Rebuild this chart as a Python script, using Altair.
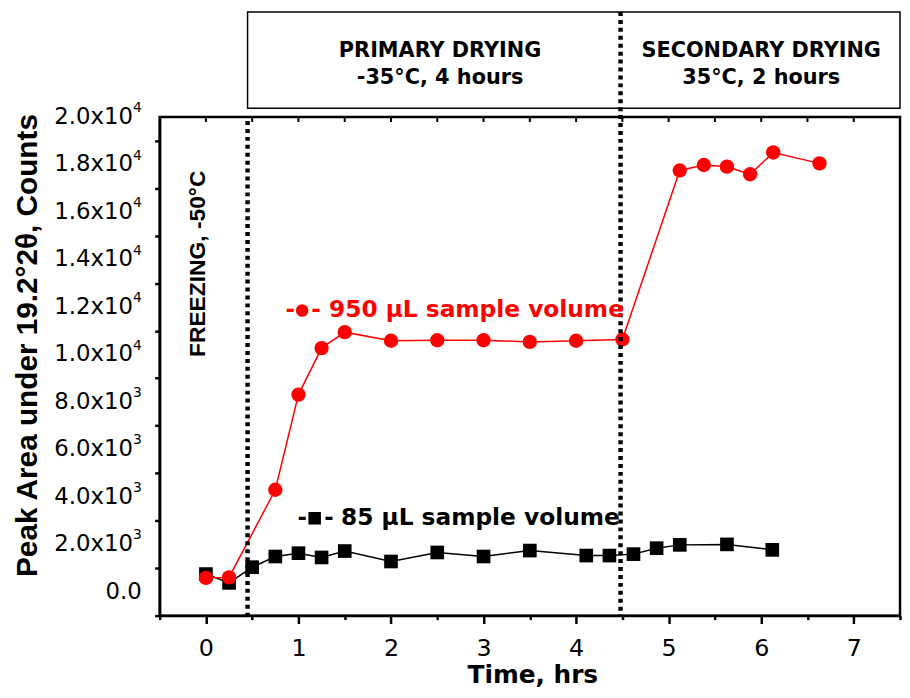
import altair as alt
import pandas as pd

# ---- data ----
red_t = [0, 0.25, 0.75, 1.0, 1.25, 1.5, 2.0, 2.5, 3.0, 3.5, 4.0, 4.5, 5.12, 5.38, 5.63, 5.88, 6.13, 6.63]
red_v = [590, 610, 4300, 8310, 10270, 10940, 10580, 10600, 10600, 10530, 10580, 10630,
         17750, 17980, 17910, 17590, 18510, 18050]

black_t = [0, 0.25, 0.5, 0.75, 1.0, 1.25, 1.5, 2.0, 2.5, 3.0, 3.5, 4.11, 4.36, 4.62, 4.87, 5.12, 5.63, 6.12]
black_v = [750, 380, 1040, 1490, 1630, 1450, 1720, 1280, 1660, 1490, 1740, 1530, 1530, 1590, 1840, 1980, 2000, 1770]

x_ticks = [i * 0.5 for i in range(-1, 16)]
y_ticks = list(range(-1000, 20001, 1000))

# y tick labels: mantissa and power-of-ten exponent
y_label_vals = [2000, 4000, 6000, 8000, 10000, 12000, 14000, 16000, 18000, 20000]
y_label_mant = ["2.0x10", "4.0x10", "6.0x10", "8.0x10", "1.0x10",
                "1.2x10", "1.4x10", "1.6x10", "1.8x10", "2.0x10"]
y_label_exp = ["3", "3", "3", "3", "4", "4", "4", "4", "4", "4"]
y_zero_label = "0.0"

phase_lines = [0.45, 4.48]
header_titles = ["PRIMARY DRYING", "SECONDARY DRYING"]
header_subs = ["-35°C, 4 hours", "35°C, 2 hours"]
header_centers = [2.53, 6.0]

red_label = "950 μL sample volume"
black_label = "85 μL sample volume"

FONT = "DejaVu Sans"
FONT_R = "Liberation Sans"

red = pd.DataFrame({"t": red_t, "v": red_v})
black = pd.DataFrame({"t": black_t, "v": black_v})

xscale = alt.Scale(domain=[-0.5, 7.5], nice=False, zero=False)
yscale = alt.Scale(domain=[-1000, 20000], nice=False, zero=False)

x_axis = alt.Axis(
    values=x_ticks,
    labelExpr="datum.value % 1 === 0 ? datum.value : ''",
    tickSize={"condition": {"test": "datum.value % 1 === 0", "value": 8}, "value": 4},
    tickWidth=2.5, domainWidth=2.5, domainColor="black", tickColor="black",
    labelFont=FONT, labelFontSize=24, labelColor="black", labelPadding=13,
    labelOverlap=False, grid=False,
    title="Time, hrs", titleFont=FONT, titleFontSize=25, titleFontWeight="bold",
    titleColor="black", titleX=376, titleY=67, titleBaseline="alphabetic",
)
y_axis = alt.Axis(
    values=y_ticks,
    labels=False,
    tickSize={"condition": {"test": "datum.value % 2000 === 0", "value": 10}, "value": 5},
    tickWidth=2.5, domainWidth=2.5, domainColor="black", tickColor="black",
    grid=False,
    title="Peak Area under 19.2°2θ, Counts", titleFont=FONT_R, titleFontSize=30,
    titleFontWeight="bold", titleColor="black", titleX=-133, titleY=230,
    titleBaseline="middle", titleAngle=-90,
)

base_x = alt.X("t:Q", scale=xscale, axis=x_axis)
base_y = alt.Y("v:Q", scale=yscale, axis=y_axis)

black_line = alt.Chart(black).mark_line(color="black", strokeWidth=1.5).encode(x=base_x, y=base_y)
black_pts = alt.Chart(black).mark_point(shape="square", filled=True, color="black", size=190, opacity=1).encode(
    x="t:Q", y="v:Q")
red_line = alt.Chart(red).mark_line(color="#ff0000", strokeWidth=1.5).encode(x="t:Q", y="v:Q")
red_pts = alt.Chart(red).mark_point(shape="circle", filled=True, color="#ff0000", size=210, opacity=1).encode(
    x="t:Q", y="v:Q")

# y tick labels drawn as text (mantissa + superscript exponent)
yl = pd.DataFrame({"v": y_label_vals, "m": y_label_mant, "e": y_label_exp})
ylab_m = alt.Chart(yl).mark_text(font=FONT, fontSize=23, color="black", align="right",
                                 baseline="middle").encode(
    x=alt.value(-27), y="v:Q", text="m:N")
ylab_e = alt.Chart(yl).mark_text(font=FONT, fontSize=14, color="black", align="left",
                                 baseline="middle", dy=-9).encode(
    x=alt.value(-27), y="v:Q", text="e:N")
yz = pd.DataFrame({"v": [0], "m": [y_zero_label]})
ylab_z = alt.Chart(yz).mark_text(font=FONT, fontSize=23, color="black", align="right",
                                 baseline="middle").encode(
    x=alt.value(-18), y="v:Q", text="m:N")

# phase separators
vline1 = alt.Chart(pd.DataFrame({"t": [phase_lines[0]]})).mark_rule(
    color="black", strokeWidth=4.5, strokeDash=[4, 4]).encode(
    x="t:Q", y=alt.value(4), y2=alt.value(503))
vline2 = alt.Chart(pd.DataFrame({"t": [phase_lines[1]]})).mark_rule(
    color="black", strokeWidth=4.5, strokeDash=[4, 4]).encode(
    x="t:Q", y=alt.value(-106), y2=alt.value(503))

# top-axis inward ticks
tt = pd.DataFrame({"t": x_ticks[1:-1]})
top_ticks = alt.Chart(tt).mark_rule(color="black", strokeWidth=2).encode(
    x="t:Q", y=alt.value(0), y2=alt.value(5))

# header box
hb = pd.DataFrame({"a": [phase_lines[0]], "b": [7.5]})
header_box = alt.Chart(hb).mark_rect(fill="white", stroke="black", strokeWidth=1.5).encode(
    x="a:Q", x2="b:Q", y=alt.value(-106), y2=alt.value(-9))

hd = pd.DataFrame({"c": header_centers, "title": header_titles, "sub": header_subs})
h1 = alt.Chart(hd).mark_text(font=FONT, fontSize=21, fontWeight="bold", color="black",
                             align="center", baseline="middle").encode(
    x="c:Q", y=alt.value(-67), text="title:N")
h2 = alt.Chart(hd).mark_text(font=FONT, fontSize=21, fontWeight="bold", color="black",
                             align="center", baseline="middle").encode(
    x="c:Q", y=alt.value(-39), text="sub:N")

# freezing label
fz = pd.DataFrame({"t": [-0.086], "v": [13820], "s": ["FREEZING, -50°C"]})
freeze = alt.Chart(fz).mark_text(font=FONT_R, fontSize=23, fontWeight="bold", color="black",
                                 angle=270, align="center", baseline="middle").encode(
    x="t:Q", y="v:Q", text="s:N")

# in-plot legends
def legend(xd1, xm, xd2, xt, yv, shape, color, label):
    dashes = pd.DataFrame({"t": [xd1, xd2], "v": [yv, yv], "s": ["-", "-"]})
    d = alt.Chart(dashes).mark_text(font=FONT, fontSize=23, fontWeight="bold", color=color,
                                    align="center", baseline="middle").encode(x="t:Q", y="v:Q", text="s:N")
    m = alt.Chart(pd.DataFrame({"t": [xm], "v": [yv]})).mark_point(
        shape=shape, filled=True, color=color, size=160, opacity=1).encode(x="t:Q", y="v:Q")
    tx = alt.Chart(pd.DataFrame({"t": [xt], "v": [yv], "s": [label]})).mark_text(
        font=FONT, fontSize=23.5, fontWeight="bold", color=color, align="left", baseline="middle").encode(
        x="t:Q", y="v:Q", text="s:N")
    return d + m + tx

leg_red = legend(0.91, 1.04, 1.19, 1.33, 11850, "circle", "#ff0000", red_label)
leg_black = legend(1.04, 1.175, 1.33, 1.46, 3100, "square", "black", black_label)

chart = alt.layer(
    black_line, black_pts, red_line, red_pts,
    ylab_m, ylab_e, ylab_z,
    header_box, h1, h2, vline1, vline2, top_ticks,
    freeze, leg_red, leg_black,
).properties(
    width=747, height=503,
    autosize=alt.AutoSizeParams(type="none"),
    padding={"left": 153, "top": 107, "right": 2, "bottom": 72},
    background="white",
).configure_view(stroke="black", strokeWidth=2.5)

chart.save("out.html", embed_options={"renderer": "svg", "actions": False})
